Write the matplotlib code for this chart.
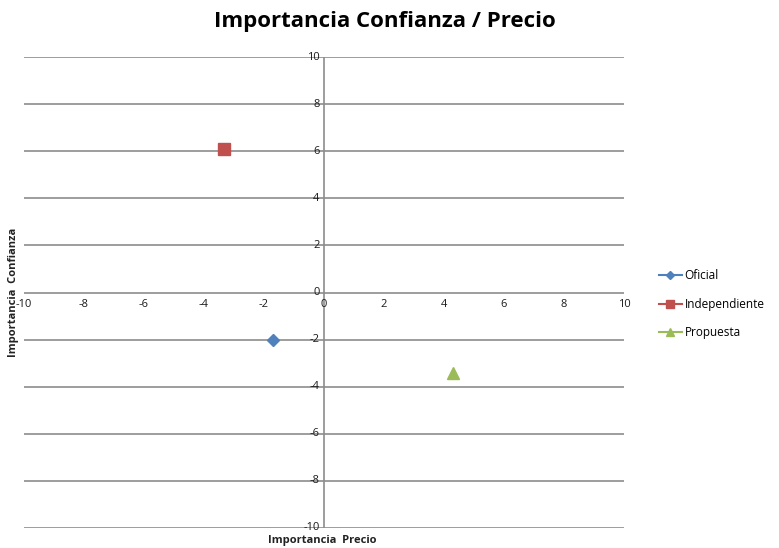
import matplotlib
matplotlib.use("Agg")
import matplotlib.pyplot as plt

series = ["Oficial", "Independiente", "Propuesta"]
x_vals = [-1.7, -3.35, 4.3]
y_vals = [-2.0, 6.1, -3.4]
colors = ["#4F81BD", "#C0504D", "#9BBB59"]
markers = ["D", "s", "^"]
msizes = [6, 8, 8]
ticks = list(range(-10, 11, 2))

plt.rcParams['font.family'] = ['Open Sans', 'DejaVu Sans']

fig = plt.figure(figsize=(7.79, 5.48), dpi=100)
ax = fig.add_axes([24/779, 20/548, 600/779, 471/548])
ax.set_xlim(-10, 10)
ax.set_ylim(-10, 10)

for yt in ticks:
    ax.axhline(yt, color="#8c8c8c", lw=1.2, zorder=1)
ax.axvline(0, color="#8c8c8c", lw=1.2, zorder=1)

for s, xv, yv, c, m, ms in zip(series, x_vals, y_vals, colors, markers, msizes):
    ax.plot([xv], [yv], linestyle="-", color=c, marker=m, markersize=ms, label=s, zorder=3)

for sp in ax.spines.values():
    sp.set_visible(False)
ax.set_xticks([])
ax.set_yticks([])

for t in ticks:
    ax.text(t, -0.5, f"{t}", ha="center", va="center", fontsize=8, color="#1a1a1a")
    ax.text(-0.15, t, f"{t}", ha="right", va="center", fontsize=8, color="#1a1a1a")

fig.text(322/779, 1 - 540/548, "Importancia  Precio", ha="center", va="center", fontsize=8, fontweight="bold", color="#222222")
fig.text(14/779, 1 - 292/548, "Importancia  Confianza", ha="center", va="center", rotation=90, fontsize=8, fontweight="bold", color="#222222")
fig.text(385/779, 1 - 22/548, "Importancia Confianza / Precio", ha="center", va="center", fontsize=16, fontweight="bold", color="black")

leg = ax.legend(loc="center left", bbox_to_anchor=(1.04, 0.475), frameon=False, fontsize=8.5,
                handlelength=2.0, labelspacing=1.3, handletextpad=0.2, markerscale=0.75)
fig.savefig("out.png", dpi=100)
